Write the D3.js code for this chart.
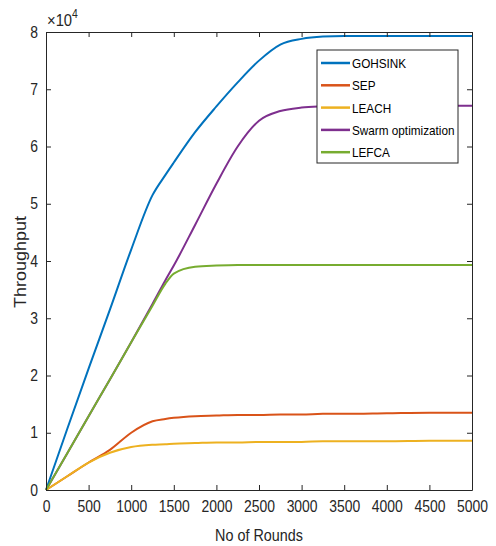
<!DOCTYPE html>
<html><head><meta charset="utf-8">
<script src="https://cdn.jsdelivr.net/npm/d3@7"></script>
<style>body{margin:0;background:#fff}text{font-family:"Liberation Sans",Arial,sans-serif}</style>
</head><body><svg id="c" width="496" height="546"></svg>
<script>
const rounds = [0,250,500,750,1000,1250,1400,1500,1750,2000,2250,2500,2750,3000,3250,3500,4000,4500,5000];
const gohsink = [0,1.07,2.12,3.15,4.2,5.15,5.5,5.72,6.25,6.7,7.12,7.5,7.78,7.88,7.92,7.93,7.93,7.93,7.93];
const swarm   = [0,0.64,1.29,1.93,2.58,3.25,3.66,3.92,4.63,5.35,6.0,6.45,6.62,6.68,6.7,6.71,6.71,6.71,6.71];
const lefca   = [0,0.64,1.29,1.93,2.58,3.22,3.6,3.78,3.9,3.92,3.93,3.93,3.93,3.93,3.93,3.93,3.93,3.93,3.93];
const sep     = [0,0.24,0.48,0.7,1.0,1.2,1.24,1.26,1.29,1.3,1.31,1.31,1.32,1.32,1.33,1.33,1.34,1.35,1.35];
const leach   = [0,0.24,0.48,0.65,0.75,0.79,0.8,0.81,0.82,0.83,0.83,0.84,0.84,0.84,0.85,0.85,0.85,0.86,0.86];
const seriesNames = ["GOHSINK","SEP","LEACH","Swarm optimization","LEFCA"];
const seriesColors = ["#0072BD","#D95319","#EDB120","#7E2F8E","#77AC30"];
const xTicks = [0,500,1000,1500,2000,2500,3000,3500,4000,4500,5000];
const yTicks = [0,1,2,3,4,5,6,7,8];

const seriesData = [gohsink, sep, leach, swarm, lefca];
const svg = d3.select("#c");
const L=46,R=472,T=32,B=490;
const x = d3.scaleLinear().domain([0,5000]).range([L,R]);
const y = d3.scaleLinear().domain([0,8]).range([B,T]);
const axCol="#262626";
const SQ=0.87;
function squish(sel){
  sel.each(function(){
    const w=this.getComputedTextLength();
    d3.select(this).attr("textLength",w*SQ).attr("lengthAdjust","spacingAndGlyphs");
  });
}

const line = d3.line().x(d=>x(d[0])).y(d=>y(d[1])).curve(d3.curveMonotoneX);
const order=[3,0,1,2,4];
order.forEach(i=>{
  svg.append("path").datum(rounds.map((r,k)=>[r,seriesData[i][k]]))
    .attr("d",line).attr("fill","none").attr("stroke",seriesColors[i]).attr("stroke-width",2);
});

const fmt = d3.format("d");
const gx = svg.append("g").attr("transform",`translate(0,${B})`).call(d3.axisBottom(x).tickValues(xTicks).tickFormat(fmt).tickSizeInner(-5).tickSizeOuter(0).tickPadding(11));
const gy = svg.append("g").attr("transform",`translate(${L},0)`).call(d3.axisLeft(y).tickValues(yTicks).tickFormat(fmt).tickSizeInner(-5).tickSizeOuter(0).tickPadding(8));
const gt = svg.append("g").attr("transform",`translate(0,${T})`).call(d3.axisTop(x).tickValues(xTicks).tickSizeInner(-5).tickSizeOuter(0).tickFormat(""));
const gr = svg.append("g").attr("transform",`translate(${R},0)`).call(d3.axisRight(y).tickValues(yTicks).tickSizeInner(-5).tickSizeOuter(0).tickFormat(""));
[gx,gy,gt,gr].forEach(g=>{
  g.selectAll("path").attr("stroke",axCol).attr("stroke-width",1);
  g.selectAll("line").attr("stroke",axCol);
  g.selectAll("text").attr("fill",axCol).style("font-size","16px").style("font-family","'Liberation Sans',Arial,sans-serif");
});
gx.selectAll("text").attr("dy","0.71em");
squish(gx.selectAll("text"));
squish(gy.selectAll("text"));

const ex = svg.append("text").attr("x",47).attr("y",26).attr("fill",axCol).style("font-size","17px")
  .html('×10<tspan dy="-8" style="font-size:12px">4</tspan>');
ex.attr("transform","translate(47,0) scale(0.87,1) translate(-47,0)");
const xl = svg.append("text").attr("x",(L+R)/2).attr("y",541).attr("text-anchor","middle").attr("fill",axCol).style("font-size","16.5px").text("No of Rounds");
squish(xl);
svg.append("text").attr("transform",`translate(26,${(T+B)/2+1}) scale(0.87,1) rotate(-90)`).attr("text-anchor","middle").attr("fill",axCol).style("font-size","18px").text("Throughput");

const lg = svg.append("g");
lg.append("rect").attr("x",317).attr("y",50).attr("width",141).attr("height",113).attr("fill","#fff").attr("stroke",axCol).attr("stroke-width",1);
seriesNames.forEach((n,i)=>{
  const yy = 63 + i*22.3;
  lg.append("line").attr("x1",321).attr("x2",350).attr("y1",yy).attr("y2",yy).attr("stroke",seriesColors[i]).attr("stroke-width",2.5);
  const t = lg.append("text").attr("x",352).attr("y",yy+5).attr("fill","#000").style("font-size","13.5px").text(n);
  squish(t);
});
</script></body></html>
